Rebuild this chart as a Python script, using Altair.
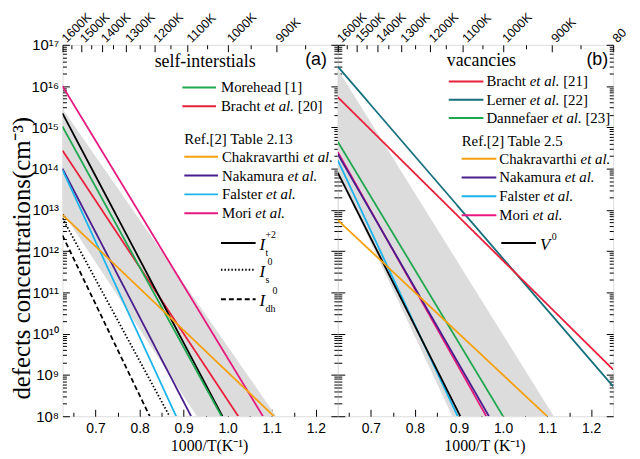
import altair as alt
import pandas as pd

SERIF = "Liberation Serif"
SANS = "Liberation Sans"

X_DOMAIN = [0.625, 1.25]
Y_DOMAIN = [1e8, 1e17]
W, H = 278, 375

# ---------------- panel (a): self-interstitials ----------------
a_names = ["Mori et al.", "Bracht et al. [20]", "I_t+2", "Morehead [1]", "Nakamura et al.",
           "Falster et al.", "Chakravarthi et al.", "I_s0", "I_dh0"]
a_colors = ["#e6197f", "#e8203c", "#000000", "#1fa84f", "#4a1e8c",
            "#1cb4ec", "#f5a00f", "#000000", "#000000"]
a_dashes = [[1, 0], [1, 0], [1, 0], [1, 0], [1, 0], [1, 0], [1, 0], [1.5, 2], [5, 3]]
a_log_start = [16.0, 14.44, 15.34, 15.02, 14.0, 13.97, 12.88, 12.8, 12.38]   # log10 at 1000/T = 0.625
a_x_end = [1.080, 1.024, 0.988, 0.986, 0.917, 0.883, 1.105, 0.868, 0.823]
a_log_end = [8, 8, 8, 8, 8, 8, 8, 8, 8]
a_band = (15.45, 1.11, 12.95, 0.93)   # upper start, upper end x, lower start, lower end x
a_temps = [1600, 1500, 1400, 1300, 1200, 1100, 1000, 900]

# ---------------- panel (b): vacancies ----------------
b_names = ["Lerner et al. [22]", "Bracht et al. [21]", "Dannefaer et al. [23]", "Mori et al.",
           "Nakamura et al.", "Falster et al.", "V0", "Chakravarthi et al."]
b_colors = ["#16707e", "#e8203c", "#1fa84f", "#e6197f", "#4a1e8c", "#1cb4ec", "#000000", "#f5a00f"]
b_dashes = [[1, 0]] * 8
b_log_start = [16.47, 15.73, 14.65, 14.4, 14.35, 14.2, 13.9, 12.75]
b_x_end = [1.25, 1.25, 1.0, 0.962, 0.968, 0.897, 0.903, 1.1]
b_log_end = [8.72, 9.13, 8, 8, 8, 8, 8, 8]
b_band = (16.4, 1.115, 13.9, 0.885)
b_temps = [1600, 1500, 1400, 1300, 1200, 1100, 1000, 900]
b_temp_edge = [800]

y_major = [10.0 ** e for e in range(8, 18)]
y_ticks = [k * 10.0 ** e for e in range(8, 17) for k in range(1, 10)] + [1e17]
x_major = [0.7, 0.8, 0.9, 1.0, 1.1, 1.2]
x_ticks = [round(0.65 + 0.05 * i, 2) for i in range(12)]
top_ticks = [1000.0 / t for t in range(800, 1601, 50)]

TIMES = {' ': 250, '(': 333, ')': 333, '+': 564, '-': 333, '.': 250, '/': 278, '[': 333, ']': 333,
         'A': 722, 'B': 667, 'C': 667, 'D': 722, 'E': 611, 'F': 556, 'G': 722, 'H': 722, 'I': 333,
         'K': 722, 'L': 611, 'M': 889, 'N': 722, 'R': 667, 'S': 556, 'T': 611, 'V': 722,
         'a': 444, 'b': 500, 'c': 444, 'd': 500, 'e': 444, 'f': 333, 'g': 500, 'h': 500, 'i': 278,
         'k': 500, 'l': 278, 'm': 778, 'n': 500, 'o': 500, 'p': 500, 'r': 333, 's': 389, 't': 278,
         'u': 500, 'v': 500, 'w': 722, 'y': 500, 'z': 444}
TIMES_IT = {'a': 500}


def tw(s, size, italic=False):
    tot = 0
    for c in s:
        if c.isdigit():
            tot += 500
        elif italic and c in TIMES_IT:
            tot += TIMES_IT[c]
        else:
            tot += TIMES.get(c, 500)
    return tot * size / 1000.0


xs = alt.Scale(domain=X_DOMAIN, nice=False, zero=False)
ys = alt.Scale(type="log", domain=Y_DOMAIN, nice=False)

sup = "['⁰','¹','²','³','⁴','⁵','⁶','⁷','⁸','⁹']"
ex = "round(log(datum.value)/LN10)"
y_label_expr = "'10' + (" + ex + " >= 10 ? '¹' : '') + " + sup + "[" + ex + " % 10]"

Y_MAJOR_TEST = "abs(log(datum.value)/LN10 - round(log(datum.value)/LN10)) < 0.01"
X_MAJOR_TEST = "abs(datum.value*10 - round(datum.value*10)) < 0.01"
T_MAJOR_TEST = "abs(1000/datum.value/100 - round(1000/datum.value/100)) < 0.01"


def tick_axis(orient, offset, values, test):
    return alt.Axis(orient=orient, offset=offset, values=values, labels=False, domain=False,
                    grid=False, title=None, tickColor="black", tickWidth=1,
                    tickSize={"condition": {"test": test, "value": 7}, "value": 4})


def series_df(names, y0, x1, y1):
    rows = []
    for n, a, c, d in zip(names, y0, x1, y1):
        rows.append({"name": n, "x": X_DOMAIN[0], "y": 10.0 ** a})
        rows.append({"name": n, "x": c, "y": 10.0 ** d})
    return pd.DataFrame(rows)


def band_df(b):
    up0, up_end, lo0, lo_end = b
    x0 = X_DOMAIN[0]
    up_at = up0 + (8 - up0) * (lo_end - x0) / (up_end - x0)
    return pd.DataFrame({"x": [x0, lo_end, up_end],
                         "up": [10 ** up0, 10 ** up_at, 1e8],
                         "lo": [10 ** lo0, 1e8, 1e8]})


def txt(s, x, y, size=15, font=SERIF, style="normal", align="left", baseline="middle"):
    return alt.Chart(pd.DataFrame({"t": [s]})).mark_text(
        align=align, baseline=baseline, font=font, fontSize=size, fontStyle=style,
        color="black").encode(x=alt.value(x), y=alt.value(y), text="t:N")


def rule(x0, x1, y, color, dash=None):
    kw = dict(color=color, strokeWidth=2)
    if dash is not None and dash != [1, 0]:
        kw["strokeDash"] = dash
    return alt.Chart(pd.DataFrame({"a": [0]})).mark_rule(**kw).encode(
        x=alt.value(x0), x2=alt.value(x1), y=alt.value(y))


def anchor(x, y0, y1):
    # invisible rule that fixes the outer bounds of the layout
    return alt.Chart(pd.DataFrame({"a": [0]})).mark_rule(opacity=0, strokeWidth=0.1).encode(
        x=alt.value(x), y=alt.value(y0), y2=alt.value(y1))


def label_layers(label, x, y, size=15):
    out = []
    if " et al." in label:
        pre, post = label.split("et al.")
        parts = [(pre, "normal"), ("et al.", "italic"), (post, "normal")]
    else:
        parts = [(label, "normal")]
    cx = x
    for p, st in parts:
        if p.strip():
            lead = len(p) - len(p.lstrip())
            cx += tw(" " * lead, size)
            out.append(txt(p.strip(), cx, y, size, style=st))
            cx += tw(p.strip(), size, st == "italic") + tw(" " * (len(p) - len(p.rstrip())), size)
        else:
            cx += tw(p, size)
    return out


def entry(label, color, x0, x1, y, tx, dash=None):
    return [rule(x0, x1, y, color, dash)] + label_layers(label, tx, y)


def temp_labels(temps, limit=None):
    kw = dict(angle=315, align="left", baseline="middle", font=SANS, fontSize=12.5,
              color="black", dx=2)
    if limit is not None:
        kw["limit"] = limit
        kw["ellipsis"] = " "
    return alt.Chart(pd.DataFrame({"T": temps})).transform_calculate(
        inv="1000/datum.T", lab="datum.T + 'K'").mark_text(**kw).encode(
        x=alt.X("inv:Q", scale=xs, axis=None), y=alt.value(-3), text="lab:N")


def panel(names, colors, dashes, y0, x1, y1, band, labeled, xtitle, extra):
    bdf = band_df(band)
    if labeled:
        yaxis = alt.Axis(orient="left", values=y_major, labelExpr=y_label_expr, ticks=False,
                         domain=False, grid=False, labelFont=SANS, labelFontSize=15,
                         labelPadding=4, labelColor="black",
                         title="defects concentrations(cm⁻³)", titleFont=SERIF,
                         titleFontSize=25, titleFontWeight="normal", titleColor="black",
                         titleAngle=270, titleX=-33, titleY=215, titleAlign="center",
                         titleBaseline="alphabetic")
    else:
        yaxis = None
    xaxis = alt.Axis(orient="bottom", values=x_major, format=".1f", ticks=False, domain=False,
                     grid=False, labelFont=SANS, labelFontSize=14, labelPadding=5,
                     labelColor="black", title=xtitle, titleFont=SERIF, titleFontSize=16,
                     titleFontWeight="normal", titleColor="black", titleX=148, titleY=30,
                     titleAlign="center", titleBaseline="middle")
    band_layer = alt.Chart(bdf).mark_area(color="#dcdcdc").encode(
        x=alt.X("x:Q", scale=xs, axis=xaxis),
        y=alt.Y("up:Q", scale=ys, axis=yaxis),
        y2="lo:Q")
    lines = alt.Chart(series_df(names, y0, x1, y1)).mark_line(strokeWidth=1.8, clip=True).encode(
        x=alt.X("x:Q", scale=xs, axis=tick_axis("top", -H, x_ticks, X_MAJOR_TEST)),
        y=alt.Y("y:Q", scale=ys, axis=tick_axis("right", -W, y_ticks, Y_MAJOR_TEST)),
        color=alt.Color("name:N", scale=alt.Scale(domain=names, range=colors), legend=None),
        strokeDash=alt.StrokeDash("name:N", scale=alt.Scale(domain=names, range=dashes), legend=None),
        detail="name:N")
    ticks = alt.Chart(bdf).mark_point(opacity=0).encode(
        x=alt.X("x:Q", scale=xs, axis=tick_axis("bottom", -H, top_ticks, T_MAJOR_TEST)),
        y=alt.Y("up:Q", scale=ys, axis=tick_axis("left", -W, y_ticks, Y_MAJOR_TEST)))
    return alt.layer(band_layer, lines, ticks, *extra).properties(width=W, height=H)


cmap_a = dict(zip(a_names, a_colors))
extra_a = [anchor(-54, -33, H + 36), temp_labels(a_temps),
           txt("self-interstials", 144, 17, 18, align="center"),
           txt("(a)", 256, 15, 18, font=SANS, align="center")]
LX0, LX1, LT = 121, 155, 160
extra_a += entry("Morehead [1]", cmap_a["Morehead [1]"], LX0, LX1, 43, LT)
extra_a += entry("Bracht et al. [20]", cmap_a["Bracht et al. [20]"], LX0, LX1, 62, LT)
extra_a += [txt("Ref.[2] Table 2.13", 123, 95, 15)]
for i, nm in enumerate(["Chakravarthi et al.", "Nakamura et al.", "Falster et al.", "Mori et al."]):
    extra_a += entry(nm, cmap_a[nm], 123, 157, 113 + 19 * i, 161)
extra_a += [rule(160, 195, 200, "black"),
            txt("I", 199, 202, 17, style="italic"), txt("t", 205, 210, 10),
            txt("+2", 205, 192, 10)]
extra_a += [rule(160, 195, 227, "black", [1.5, 2]),
            txt("I", 199, 229, 17, style="italic"), txt("s", 205, 237, 10),
            txt("0", 207, 219, 10)]
extra_a += [rule(160, 195, 257, "black", [5, 3]),
            txt("I", 199, 259, 17, style="italic"), txt("dh", 205, 267, 10),
            txt("0", 212, 249, 10)]

cmap_b = dict(zip(b_names, b_colors))
extra_b = [anchor(W + 14, 0, 10), temp_labels(b_temps), temp_labels(b_temp_edge, limit=20),
           txt("vacancies", 110, 16, 18),
           txt("(b)", 262, 15, 18, font=SANS, align="center")]
for i, nm in enumerate(["Bracht et al. [21]", "Lerner et al. [22]", "Dannefaer et al. [23]"]):
    extra_b += entry(nm, cmap_b[nm], 112, 147, 37 + 18.5 * i, 150)
extra_b += [txt("Ref.[2] Table 2.5", 125, 97, 15)]
for i, nm in enumerate(["Chakravarthi et al.", "Nakamura et al.", "Falster et al.", "Mori et al."]):
    extra_b += entry(nm, cmap_b[nm], 125, 160, 115 + 19 * i, 163)
extra_b += [rule(165, 200, 200, "black"),
            txt("V", 204, 202, 17, style="italic"), txt("0", 216, 194, 10)]

pa = panel(a_names, a_colors, a_dashes, a_log_start, a_x_end, a_log_end, a_band,
           True, "1000/T(K⁻¹)", extra_a)
pb = panel(b_names, b_colors, b_dashes, b_log_start, b_x_end, b_log_end, b_band,
           False, "1000/T (K⁻¹)", extra_b)

chart = alt.hconcat(pa, pb, spacing=0, bounds="flush").resolve_scale(
    color="independent", strokeDash="independent"
).properties(
    padding=0,
).configure_view(stroke="black", strokeWidth=1.5).configure(background="white")

chart.save("out.html", embed_options={"renderer": "svg", "actions": False})
